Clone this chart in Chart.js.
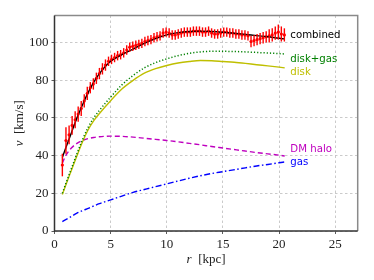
<!DOCTYPE html>
<html><head><meta charset="utf-8">
<script src="https://cdn.jsdelivr.net/npm/chart.js@4"></script>
<style>html,body{margin:0;padding:0;background:#fff}#wrap{width:374px;height:280px}</style>
</head><body><div id="wrap"><canvas id="c" width="374" height="280"></canvas></div>
<script>
// observed rotation curve
const rData = [0.70,1.02,1.30,1.57,1.84,2.11,2.38,2.65,2.92,3.19,3.46,3.73,4.00,4.27,4.54,4.81,5.08,5.35,5.62,5.89,6.16,6.43,6.70,6.97,7.24,7.51,7.78,8.05,8.32,8.59,8.86,9.13,9.40,9.67,9.94,10.21,10.48,10.75,11.02,11.29,11.56,11.83,12.10,12.37,12.64,12.91,13.18,13.45,13.72,13.99,14.26,14.53,14.80,15.07,15.34,15.61,15.88,16.15,16.42,16.69,16.96,17.23,17.50,17.77,18.04,18.31,18.58,18.85,19.12,19.39,19.66,19.93,20.20,20.47];
const vData = [35,48,51,56,59,62,65,69,73,76,78,81,83.5,86,88,90,91,92,93,93.5,94.5,96,97.5,98,98.5,99,99.5,100.5,101,101.5,102.5,103,103.5,105,105.5,105,104,104,104.5,105,105.5,105.5,105.5,106,106,106,105.5,105.5,106,105,104.5,104.5,105,105.5,105.5,105,105,104.5,104.5,104,104,103.5,100.5,101,101.5,102,102.5,103,103.5,104,105,105.5,104.5,104];
const vErr = [6,7,5,5,4.5,4,4,3.5,3.5,3,3,3,3,3,3,2.5,2.5,2.5,2.5,2.5,2.5,2.5,2.5,2.5,2.5,2.5,2.5,2.5,2.5,2.5,2.5,2.5,2.5,2.5,2.5,2.5,2.5,2.5,2.5,2.5,2.5,2.5,2.5,2.5,2.5,2.5,2.5,2.5,2.5,2.5,2.5,2.5,2.5,2.5,2.5,2.5,2.5,2.5,2.5,2.5,2.5,2.5,3,3,3,3,3,3,3.5,3.5,3.5,4,4,3.5];
// model components
const rModel = [0.7,1,1.5,2,2.5,3,3.5,4,5,6,7,8,9,10,11,12,13,14,15,16,17,18,19,20,20.5];
const vCombined = [39,44,52,60,67,73.5,79,83.5,90,93.5,96.5,99.5,102,104,105.2,105.8,106,105.8,105.4,104.9,104.3,103.6,103,102.2,101.9];
const vDiskGas = [20,25,33,41,48.5,55,60,64,71,77.5,82.5,86.5,89.3,91.3,93,94.2,95,95.3,95.3,95.2,95,94.7,94.4,94.1,93.9];
const vDisk = [19.4,24.3,32.1,39.9,47.3,53.7,58.5,62.3,69.1,75.3,79.9,83.7,86.1,87.8,89.1,89.9,90.4,90.3,89.9,89.5,88.9,88.2,87.6,86.9,86.5];
const vHalo = [36,40,44,46.5,48,49,49.6,50,50.3,50.2,49.8,49.2,48.6,48,47.3,46.5,45.7,44.8,44,43.2,42.4,41.6,40.9,40.2,39.8];
const vGas = [5,6,7.7,9.5,10.8,12,13.3,14.5,16.5,18.5,20.5,22,23.5,25,26.5,28,29.3,30.5,31.5,32.5,33.5,34.5,35.3,36.2,36.6];
// curve labels
const labelNames = ["combined","disk+gas","disk","DM halo","gas"];
const labelColors = ["#000000","#008000","#bfbf00","#bf00bf","#0000ff"];
const labelR = [21,21,21,21,21];
const labelV = [103.7,91,84,43.5,36.2];
const xTicks = [0,5,10,15,20,25];
const yTicks = [0,20,40,60,80,100];

const pts = (xs, ys) => xs.map((x,i)=>({x:x,y:ys[i]}));

const errPlugin = {
  id:'err',
  afterDatasetsDraw(chart){
    const ctx = chart.ctx, xs = chart.scales.x, ys = chart.scales.y;
    ctx.save();
    ctx.strokeStyle = '#ff0000'; ctx.lineWidth = 1.4;
    rData.forEach((r,i)=>{
      const px = xs.getPixelForValue(r);
      ctx.beginPath();
      ctx.moveTo(px, ys.getPixelForValue(vData[i]-vErr[i]));
      ctx.lineTo(px, ys.getPixelForValue(vData[i]+vErr[i]));
      ctx.stroke();
    });
    ctx.restore();
  },
  afterDraw(chart){
    const ctx = chart.ctx, xs = chart.scales.x, ys = chart.scales.y, a = chart.chartArea;
    ctx.save();
    ctx.font = '10.2px "DejaVu Sans"';
    ctx.textBaseline = 'middle'; ctx.textAlign = 'left';
    labelNames.forEach((n,i)=>{
      ctx.fillStyle = labelColors[i];
      ctx.fillText(n, xs.getPixelForValue(labelR[i]), ys.getPixelForValue(labelV[i]));
    });
    // axis titles
    ctx.fillStyle = '#222';
    ctx.font = 'italic 13px "Liberation Serif"';
    const t1 = 'r', t2 = '  [kpc]';
    ctx.textBaseline = 'alphabetic';
    const w1 = ctx.measureText(t1).width;
    ctx.font = '13px "Liberation Serif"';
    const w2 = ctx.measureText(t2).width;
    let x0 = (a.left + a.right)/2 - (w1+w2)/2;
    ctx.font = 'italic 13px "Liberation Serif"';
    ctx.fillText(t1, x0, 263);
    ctx.font = '13px "Liberation Serif"';
    ctx.fillText(t2, x0+w1, 263);
    ctx.translate(23, (a.top + a.bottom)/2);
    ctx.rotate(-Math.PI/2);
    ctx.font = 'italic 13px "Liberation Serif"';
    const u1 = 'v', u2 = '  [km/s]';
    const q1 = ctx.measureText(u1).width;
    ctx.font = '13px "Liberation Serif"';
    const q2 = ctx.measureText(u2).width;
    x0 = -(q1+q2)/2;
    ctx.font = 'italic 13px "Liberation Serif"';
    ctx.fillText(u1, x0, 0);
    ctx.font = '13px "Liberation Serif"';
    ctx.fillText(u2, x0+q1, 0);
    ctx.restore();
    // frame
    ctx.save();
    ctx.lineWidth = 1.5;
    ctx.strokeStyle = '#8a8a8a';
    ctx.beginPath();
    ctx.moveTo(a.left, a.top); ctx.lineTo(a.right, a.top); ctx.lineTo(a.right, a.bottom);
    ctx.stroke();
    ctx.strokeStyle = '#333';
    ctx.beginPath();
    ctx.moveTo(a.left, a.top); ctx.lineTo(a.left, a.bottom); ctx.lineTo(a.right, a.bottom);
    ctx.stroke();
    ctx.restore();
  }
};

const lineDs = (label, ys, color, dash, w) => ({
  label, data: pts(rModel, ys), showLine:true, borderColor:color, backgroundColor:color,
  borderWidth:w, borderDash:dash, pointRadius:0, cubicInterpolationMode:'monotone', fill:false
});

new Chart(document.getElementById('c'), {
  type:'scatter',
  data:{datasets:[
    lineDs('combined', vCombined, '#000000', [], 1.4),
    lineDs('disk+gas', vDiskGas, '#008000', [1.2,2], 1.5),
    lineDs('disk', vDisk, '#bfbf00', [], 1.4),
    lineDs('DM halo', vHalo, '#bf00bf', [5,3], 1.4),
    lineDs('gas', vGas, '#0000ff', [6,2.5,1.5,2.5], 1.4),
    {label:'data', data:pts(rData, vData), showLine:false, pointRadius:1.6, pointBackgroundColor:'#ff0000', pointBorderWidth:0, borderColor:'#ff0000'}
  ]},
  options:{
    responsive:false, animation:false, devicePixelRatio:1,
    layout:{padding:{top:15.5, right:16.3, left:0, bottom:0}},
    plugins:{legend:{display:false}, tooltip:{enabled:false}},
    scales:{
      x:{type:'linear', min:0, max:27,
        afterBuildTicks(s){ s.ticks = xTicks.map(v=>({value:v})); },
        afterFit(s){ s.height = 49; },
        grid:{color:'#bdbdbd', lineWidth:0.8, drawTicks:true, tickLength:3, tickColor:'#333'},
        border:{display:false, dash:[2.5,2.5]},
        ticks:{color:'#222', font:{family:'"Liberation Serif"', size:13}, padding:3, maxRotation:0}
      },
      y:{type:'linear', min:0, max:114.3,
        afterBuildTicks(s){ s.ticks = yTicks.map(v=>({value:v})); },
        afterFit(s){ s.width = 54.5; },
        grid:{color:'#bdbdbd', lineWidth:0.8, drawTicks:true, tickLength:3, tickColor:'#333'},
        border:{display:false, dash:[2.5,2.5]},
        ticks:{color:'#222', font:{family:'"Liberation Serif"', size:13}, padding:3}
      }
    }
  },
  plugins:[errPlugin]
});
</script></body></html>
